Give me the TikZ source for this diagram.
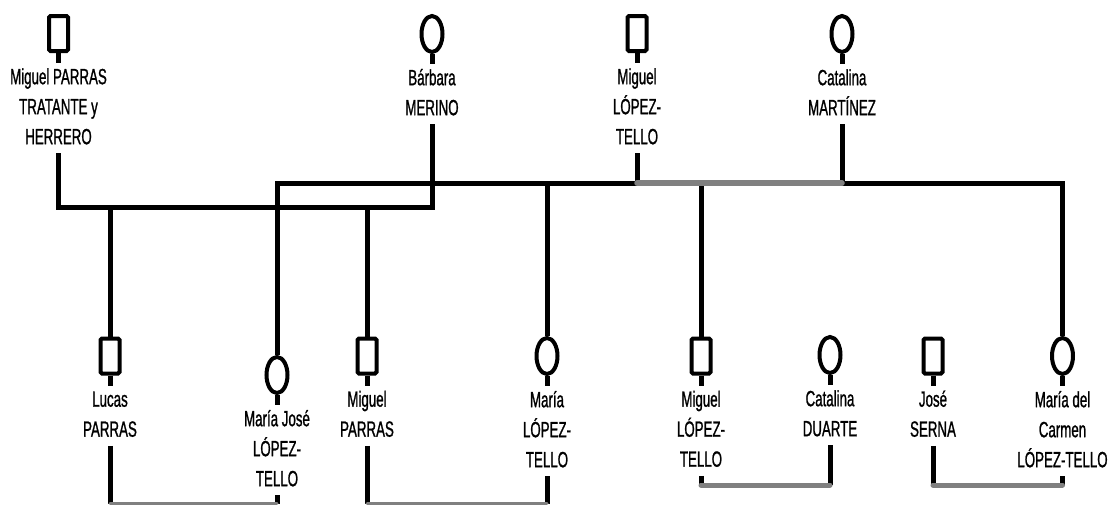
\documentclass[tikz,border=0pt]{standalone}
\usepackage{fontspec}
\newfontfamily\namefont{Liberation Sans}[FakeStretch=0.605,FakeBold=1.0]
\usetikzlibrary{positioning,shapes.geometric}
\definecolor{wedgray}{RGB}{128,128,128}
\newcommand\namestrut{\rule[-9pt]{0pt}{30pt}}

\begin{document}
\begin{tikzpicture}[x=1pt,y=-1pt,
    male/.style={draw,line width=4pt,rounded corners=1.5pt,minimum width=19pt,minimum height=35pt,inner sep=0pt},
    female/.style={draw,ellipse,line width=4pt,minimum width=21pt,minimum height=36pt,inner sep=0pt},
    pname/.style={align=center,inner sep=0pt,font=\namefont\fontsize{22}{30}\selectfont},
    bond/.style={line width=5pt},
    wed/.style={wedgray,line cap=round},
    node distance=10pt]
    \useasboundingbox (0,0) rectangle (1109,506);

    % Parents
    \node[male] (mp) at (58.5,33.5) {};
    \node[pname,below=of mp] (mp-n) {\namestrut Miguel PARRAS\\TRATANTE y\\HERRERO\namestrut};
    \node[female] (bm) at (432,34) {};
    \node[pname,below=of bm] (bm-n) {\namestrut Bárbara\\MERINO\namestrut};
    \node[male] (ml) at (637,33.5) {};
    \node[pname,below=of ml] (ml-n) {\namestrut Miguel\\LÓPEZ-\\TELLO\namestrut};
    \node[female] (cm) at (842,34) {};
    \node[pname,below=of cm] (cm-n) {\namestrut Catalina\\MARTÍNEZ\namestrut};

    % Children and spouses
    \node[male] (lp) at (110,356) {};
    \node[pname,below=of lp] (lp-n) {\namestrut Lucas\\PARRAS\namestrut};
    \node[female] (mj) at (277,375) {};
    \node[pname,below=of mj] (mj-n) {\namestrut María José\\LÓPEZ-\\TELLO\namestrut};
    \node[male] (mpa) at (367,356) {};
    \node[pname,below=of mpa] (mpa-n) {\namestrut Miguel\\PARRAS\namestrut};
    \node[female] (mlf) at (547,356) {};
    \node[pname,below=of mlf] (mlf-n) {\namestrut María\\LÓPEZ-\\TELLO\namestrut};
    \node[male] (mlt) at (701,356) {};
    \node[pname,below=of mlt] (mlt-n) {\namestrut Miguel\\LÓPEZ-\\TELLO\namestrut};
    \node[female] (cd) at (830,355) {};
    \node[pname,below=of cd] (cd-n) {\namestrut Catalina\\DUARTE\namestrut};
    \node[male] (js) at (933,356) {};
    \node[pname,below=of js] (js-n) {\namestrut José\\SERNA\namestrut};
    \node[female] (mdc) at (1062.5,356) {};
    \node[pname,below=of mdc] (mdc-n) {\namestrut María del\\Carmen\\LÓPEZ-TELLO\namestrut};

    % Stems between symbol and name
    \foreach \s in {mp,bm,ml,cm,lp,mj,mpa,mlf,mlt,cd,js,mdc}
        \draw[bond] (\s) -- (\s-n);

    % Parras family line
    \coordinate (pp) at (432,207);
    \draw[bond] (mp-n) |- (pp) -- (bm-n);
    \draw[bond] (lp) -- (lp |- pp);
    \draw[bond] (mpa) -- (mpa |- pp);

    % Lopez-Tello family line
    \coordinate (lt) at (637,183);
    \coordinate (lt2) at (842,183);
    \draw[bond] (mj) |- (lt) -- (ml-n);
    \draw[bond] (cm-n) -- (lt2) -| (mdc);
    \draw[bond] (mlf) -- (mlf |- lt);
    \draw[bond] (mlt) -- (mlt |- lt);
    \draw[wed,line width=5.5pt] (lt) -- (lt2);

    % Marriages of the children
    \coordinate (w1) at (0,503.5);
    \coordinate (w2) at (0,485);
    \foreach \a/\b/\w/\lw in {lp/mj/w1/3, mpa/mlf/w1/3, mlt/cd/w2/5, js/mdc/w2/5} {
        \draw[bond] (\a-n) -- (\a-n |- \w);
        \draw[bond] (\b-n) -- (\b-n |- \w);
        \draw[wed,line width=\lw pt] (\a-n |- \w) -- (\b-n |- \w);
    }
\end{tikzpicture}
\end{document}
